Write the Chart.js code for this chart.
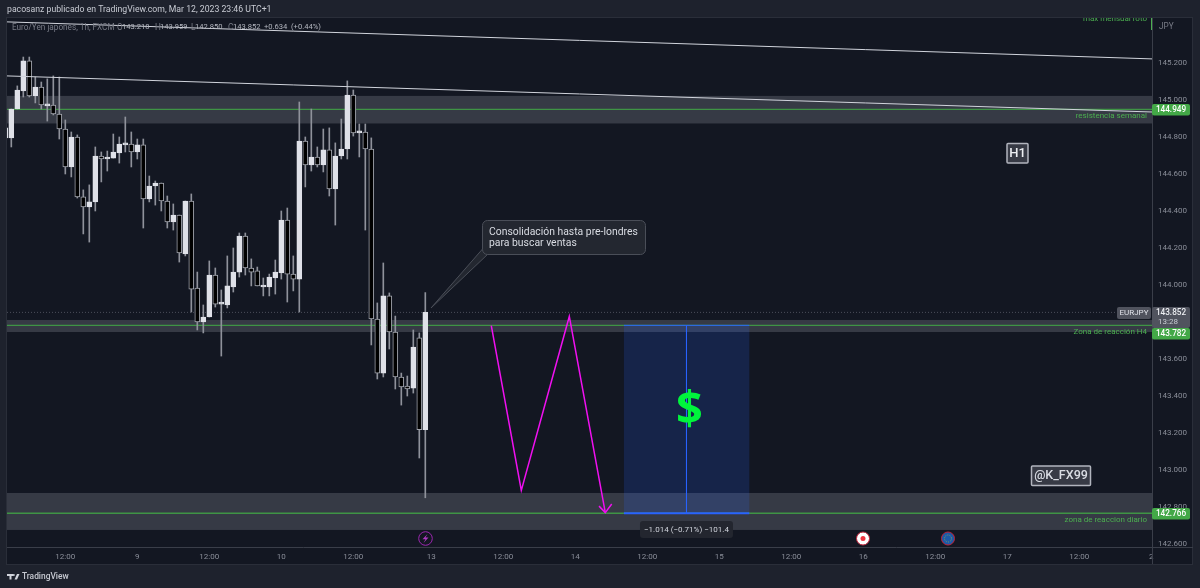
<!DOCTYPE html>
<html>
<head>
<meta charset="utf-8">
<title>EURJPY 1h</title>
<script src="https://cdn.jsdelivr.net/npm/chart.js@4/dist/chart.umd.min.js"></script>
<style>
  html, body { margin: 0; padding: 0; background: #1e222d; overflow: hidden; }
  canvas { display: block; }
</style>
</head>
<body>
<canvas id="priceChart" width="1200" height="588"></canvas>
<script>
// hourly candles, one per bar index
const candleOpen = [144.795,144.795,144.951,145.049,145.211,145.022,145.070,144.968,144.973,144.924,144.843,144.638,144.800,144.476,144.422,144.449,144.697,144.681,144.686,144.714,144.757,144.762,144.719,144.757,144.465,144.535,144.551,144.454,144.341,144.378,144.168,144.454,143.984,143.800,143.827,144.054,143.897,143.892,143.989,144.070,144.265,144.092,144.076,143.989,143.989,144.038,144.065,144.351,144.059,144.032,144.778,144.649,144.692,144.649,144.730,144.519,144.697,144.735,145.027,144.822,144.827,144.735,143.816,143.524,143.941,143.746,143.503,143.454,143.443,143.714,143.218];
const candleHigh = [144.849,144.951,145.076,145.232,145.232,145.124,145.097,145.114,145.130,145.124,144.892,144.827,144.811,144.514,144.541,144.746,144.719,144.724,144.816,144.800,144.908,144.827,144.789,144.789,144.589,144.562,144.551,144.481,144.438,144.378,144.454,144.492,144.070,143.892,144.130,144.092,143.973,144.157,144.200,144.281,144.281,144.141,144.097,144.038,144.059,144.135,144.400,144.416,144.157,144.989,144.800,144.951,144.746,144.843,144.849,144.768,144.897,145.103,145.054,144.870,144.870,144.795,143.903,144.119,143.957,143.832,143.524,143.508,143.757,143.741,143.959];
const candleLow = [144.784,144.746,144.951,145.016,145.016,144.984,144.951,144.886,144.919,144.789,144.600,144.584,144.470,144.276,144.232,144.400,144.557,144.616,144.686,144.659,144.719,144.638,144.681,144.308,144.449,144.432,144.400,144.308,144.297,144.124,144.157,143.854,143.757,143.741,143.827,143.881,143.616,143.876,143.962,144.043,144.054,143.995,143.995,143.941,143.941,143.951,144.032,143.908,143.968,143.854,144.530,144.616,144.638,144.611,144.481,144.324,144.681,144.681,144.805,144.692,144.297,143.676,143.492,143.503,143.654,143.438,143.351,143.400,143.416,143.065,142.850];
const candleClose = [144.849,144.951,145.054,145.211,145.022,145.070,144.973,144.973,144.924,144.843,144.638,144.800,144.476,144.422,144.449,144.697,144.681,144.686,144.719,144.762,144.762,144.719,144.757,144.465,144.535,144.551,144.454,144.341,144.378,144.173,144.454,143.978,143.800,143.827,144.054,143.897,143.903,143.995,144.070,144.265,144.092,144.070,143.995,144.000,144.043,144.070,144.351,144.059,144.032,144.778,144.649,144.692,144.649,144.730,144.519,144.697,144.735,145.027,144.822,144.827,144.735,143.816,143.524,143.941,143.746,143.503,143.449,143.438,143.665,143.218,143.852];

// axis ticks
const priceTicks = [145.2,145.0,144.8,144.6,144.4,144.2,144.0,143.8,143.6,143.4,143.2,143.0,142.8,142.6];
const timeTickIndex = [10,22,34,46,58,71,83,95,107,119,131,143,155,167,179,191];
const timeTickLabels = ['12:00','9','12:00','10','12:00','13','12:00','14','12:00','15','12:00','16','12:00','17','12:00','2'];

// support / resistance zones and their levels
const zoneTop = [145.022,143.811,142.876];
const zoneBottom = [144.873,143.746,142.676];
const levelPrices = [144.949,143.782,142.766];
const levelNames = ['resistencia semanal','Zona de reacción H4','zona de reaccion diario'];
const lastClose = 143.852;

// drawn trend lines, [bar index, price]
const trendUpper = [[0.28,145.422],[191.12,145.222]];
const trendLower = [[0.28,145.130],[191.12,144.935]];

// projected path and its arrow head
const pathIndex = [81,86,94,100];
const pathPrice = [143.78,142.89,143.83,142.77];
const headIndex = [98.95,100,101.07];
const headPrice = [142.805,142.77,142.816];

// price range measure
const measureStart = 103.1;
const measureEnd = 124;
const measureMid = 113.53;
const measureTop = 143.782;
const measureBottom = 142.766;

const xMin = 0.283;
const xMax = 191.117;
const yMin = 142.584;
const yMax = 145.443;

const UI_FONT = 'Roboto, "Noto Sans", sans-serif';

const toPoints = (xs, ys) => xs.map((x, i) => ({ x, y: ys[i] }));
const pairs = (list) => list.map(([x, y]) => ({ x, y }));

const bodies = candleOpen.map((o, i) => ({ x: i, y: [o, candleClose[i]] }));
const wicks = candleHigh.map((h, i) => ({ x: i, y: [candleLow[i], h] }));
const isUp = candleOpen.map((o, i) => candleClose[i] >= o);

function text(ctx, str, x, y, font, color, align) {
  ctx.font = font;
  ctx.fillStyle = color;
  ctx.textAlign = align || 'left';
  ctx.textBaseline = 'middle';
  ctx.fillText(str, x, y);
}

function roundBox(ctx, x, y, w, h, r, fill, stroke, lw) {
  ctx.beginPath();
  ctx.roundRect(x, y, w, h, r);
  if (fill) { ctx.fillStyle = fill; ctx.fill(); }
  if (stroke) { ctx.strokeStyle = stroke; ctx.lineWidth = lw || 1; ctx.stroke(); }
}

// zones, levels and the measure box sit under the candles
const backdrop = {
  id: 'backdrop',
  beforeDraw(chart) {
    const { ctx } = chart;
    ctx.save();
    ctx.fillStyle = '#131722';
    ctx.fillRect(7, 18, 1186, 546);
    ctx.restore();
  },
  beforeDatasetsDraw(chart) {
    const { ctx, chartArea: a, scales: { x, y } } = chart;
    ctx.save();
    ctx.beginPath();
    ctx.rect(a.left, a.top, a.width, a.height);
    ctx.clip();

    ctx.fillStyle = '#363a45';
    zoneTop.forEach((top, i) => {
      const y0 = y.getPixelForValue(top);
      ctx.fillRect(a.left, y0, a.width, y.getPixelForValue(zoneBottom[i]) - y0);
    });

    ctx.strokeStyle = '#4a4e59';
    ctx.setLineDash([1, 2]);
    ctx.beginPath();
    ctx.moveTo(a.left, y.getPixelForValue(lastClose));
    ctx.lineTo(a.right, y.getPixelForValue(lastClose));
    ctx.stroke();
    ctx.setLineDash([]);

    const mx0 = x.getPixelForValue(measureStart);
    const mx1 = x.getPixelForValue(measureEnd);
    const my0 = y.getPixelForValue(measureTop);
    const my1 = y.getPixelForValue(measureBottom);
    ctx.fillStyle = 'rgba(41,98,255,0.18)';
    ctx.fillRect(mx0, my0, mx1 - mx0, my1 - my0);

    ctx.strokeStyle = '#3f9445';
    ctx.lineWidth = 1.4;
    levelPrices.forEach((p) => {
      const py = y.getPixelForValue(p);
      ctx.beginPath();
      ctx.moveTo(a.left, py);
      ctx.lineTo(a.right, py);
      ctx.stroke();
    });
    ctx.restore();
  },
  afterDraw(chart) {
    const { ctx, chartArea: a, scales: { x, y } } = chart;
    ctx.save();

    // frame and axis rules
    ctx.strokeStyle = '#2a2e39';
    ctx.lineWidth = 1;
    ctx.strokeRect(6.5, 17.5, 1186, 547);
    ctx.strokeStyle = '#3a3e49';
    ctx.beginPath();
    ctx.moveTo(a.right + 0.5, 18);
    ctx.lineTo(a.right + 0.5, 564);
    ctx.moveTo(7, a.bottom + 0.5);
    ctx.lineTo(1193, a.bottom + 0.5);
    ctx.stroke();
    ctx.fillStyle = '#4caf50';
    ctx.fillRect(a.right - 1, 18, 1, 12);

    // header and legend
    text(ctx, 'pacosanz publicado en TradingView.com, Mar 12, 2023 23:46 UTC+1', 7, 10, '8.7px ' + UI_FONT, '#c8cbd3');
    const grey = '#787b86';
    const light = '#b2b5be';
    const legendFont = '8.2px ' + UI_FONT;
    const valueFont = '7.6px ' + UI_FONT;
    text(ctx, 'Euro/Yen japonés, 1h, FXCM', 12, 27.5, legendFont, grey);
    text(ctx, 'O', 117, 27.5, legendFont, grey);
    text(ctx, '143.218', 122, 27.5, valueFont, light);
    text(ctx, 'H', 155, 27.5, legendFont, grey);
    text(ctx, '143.959', 160, 27.5, valueFont, light);
    text(ctx, 'L', 191, 27.5, legendFont, grey);
    text(ctx, '142.850', 195, 27.5, valueFont, light);
    text(ctx, 'C', 228, 27.5, legendFont, grey);
    text(ctx, '143.852', 233, 27.5, valueFont, light);
    text(ctx, '+0.634', 264, 27.5, valueFont, light);
    text(ctx, '(+0.44%)', 291, 27.5, valueFont, light);
    text(ctx, 'JPY', 1159, 27, '8.2px ' + UI_FONT, grey);

    // level captions, right aligned against the price axis
    ctx.save();
    ctx.beginPath();
    ctx.rect(a.left, a.top, a.width, a.height);
    ctx.clip();
    const green = '#4caf50';
    const capFont = '8px ' + UI_FONT;
    text(ctx, 'max mensual roto', 1147, 19, capFont, green, 'right');
    text(ctx, levelNames[0], 1147, 116, capFont, green, 'right');
    text(ctx, levelNames[1], 1147, 332, capFont, green, 'right');
    text(ctx, levelNames[2], 1147, 520, capFont, green, 'right');
    ctx.restore();

    // callout
    ctx.beginPath();
    ctx.moveTo(482.5, 249);
    ctx.lineTo(431, 308);
    ctx.lineTo(488, 254);
    ctx.closePath();
    ctx.fillStyle = '#232730';
    ctx.fill();
    ctx.strokeStyle = '#4a4e58';
    ctx.stroke();
    roundBox(ctx, 482.5, 220.5, 163, 34, 5, '#232730', '#4a4e58');
    text(ctx, 'Consolidación hasta pre-londres', 489, 232, '10.4px ' + UI_FONT, '#d9dce3');
    text(ctx, 'para buscar ventas', 489, 243, '10.4px ' + UI_FONT, '#d9dce3');

    // boxed notes
    roundBox(ctx, 1007, 143.5, 21, 19.5, 1, '#373a45', '#b2b5be', 1.5);
    text(ctx, 'H1', 1017.5, 153.5, '500 13px ' + UI_FONT, '#eceef2', 'center');
    roundBox(ctx, 1031.5, 466, 59, 19.5, 1, '#373a45', '#b2b5be', 1.5);
    text(ctx, '@K_FX99', 1061, 476, '500 12.5px ' + UI_FONT, '#d9dce3', 'center');

    // big dollar inside the measure box
    text(ctx, '$', 689.5, 412, 'bold 47px "Open Sans", sans-serif', '#00f53c', 'center');

    // measure label
    const mid = x.getPixelForValue(measureMid);
    roundBox(ctx, mid - 46.5, 521, 93, 17, 3, '#23262f');
    text(ctx, '−1.014 (−0.71%) −101.4', mid, 529.5, '8px ' + UI_FONT, '#d1d4dc', 'center');

    // price tags on the axis
    roundBox(ctx, 1117, 307, 34, 12, 2, '#50535e');
    text(ctx, 'EURJPY', 1134, 313, '8px ' + UI_FONT, '#e0e3ea', 'center');
    roundBox(ctx, 1152, 307, 38, 21, 2, '#50535e');
    text(ctx, '143.852', 1171, 313, '500 8.2px ' + UI_FONT, '#eceef2', 'center');
    text(ctx, '13:28', 1168, 322, '8px ' + UI_FONT, '#c8cbd3', 'center');
    [[104, 144.949], [328, 143.782], [508, 142.766]].forEach(([top, p]) => {
      roundBox(ctx, 1152, top, 38, 11.5, 2, '#43a847');
      text(ctx, p.toFixed(3), 1171, top + 6, '500 8.2px ' + UI_FONT, '#ffffff', 'center');
    });

    // event markers under the candles
    const my = 538.5;
    ctx.lineWidth = 1;
    ctx.beginPath();
    ctx.arc(425.5, my, 6.8, 0, Math.PI * 2);
    ctx.fillStyle = '#131722';
    ctx.fill();
    ctx.strokeStyle = '#9c27b0';
    ctx.stroke();
    ctx.beginPath();
    ctx.moveTo(427.5, my - 4.5);
    ctx.lineTo(422.5, my + 0.8);
    ctx.lineTo(425.5, my + 0.8);
    ctx.lineTo(423.5, my + 4.5);
    ctx.lineTo(428.5, my - 1);
    ctx.lineTo(425.5, my - 1);
    ctx.closePath();
    ctx.fillStyle = '#b03ac4';
    ctx.fill();

    ctx.beginPath();
    ctx.arc(863, my, 6.5, 0, Math.PI * 2);
    ctx.fillStyle = '#ffffff';
    ctx.fill();
    ctx.strokeStyle = '#c2233a';
    ctx.stroke();
    ctx.beginPath();
    ctx.arc(863, my, 2.5, 0, Math.PI * 2);
    ctx.fillStyle = '#ef3340';
    ctx.fill();

    ctx.beginPath();
    ctx.arc(948, my, 6.5, 0, Math.PI * 2);
    ctx.fillStyle = '#1c5aa8';
    ctx.fill();
    ctx.strokeStyle = '#c2233a';
    ctx.stroke();
    ctx.beginPath();
    ctx.arc(948, my, 3.5, 0, Math.PI * 2);
    ctx.strokeStyle = '#8a9a5a';
    ctx.setLineDash([1, 1.2]);
    ctx.stroke();
    ctx.setLineDash([]);

    // footer mark
    ctx.fillStyle = '#d1d4dc';
    ctx.fillRect(7, 574, 6, 2);
    ctx.fillRect(9.5, 574, 2, 5.5);
    ctx.beginPath();
    ctx.arc(13.8, 575, 1, 0, Math.PI * 2);
    ctx.fill();
    ctx.beginPath();
    ctx.moveTo(14.5, 579.5);
    ctx.lineTo(17, 574);
    ctx.lineTo(19.5, 574);
    ctx.lineTo(17, 579.5);
    ctx.closePath();
    ctx.fill();
    text(ctx, 'TradingView', 22, 576.5, '500 8.4px ' + UI_FONT, '#c8cbd3');
    ctx.restore();
  }
};

const thinLine = { type: 'line', pointRadius: 0, pointHoverRadius: 0, tension: 0, fill: false };

new Chart(document.getElementById('priceChart').getContext('2d'), {
  type: 'bar',
  plugins: [backdrop],
  data: {
    datasets: [
      { ...thinLine, data: pairs(trendUpper), borderColor: '#d1d4dc', borderWidth: 1 },
      { ...thinLine, data: pairs(trendLower), borderColor: '#d1d4dc', borderWidth: 1 },
      { ...thinLine, data: toPoints(pathIndex, pathPrice), borderColor: '#f010f0', borderWidth: 1.5 },
      { ...thinLine, data: toPoints(headIndex, headPrice), borderColor: '#f010f0', borderWidth: 1.5 },
      { ...thinLine, data: toPoints([measureMid, measureMid], [measureTop, measureBottom]), borderColor: '#2962ff', borderWidth: 1 },
      { ...thinLine, data: toPoints([measureStart, measureEnd], [measureTop, measureTop]), borderColor: '#2962ff', borderWidth: 1 },
      { ...thinLine, data: toPoints([measureStart, measureEnd], [measureBottom, measureBottom]), borderColor: '#2962ff', borderWidth: 2 },
      {
        data: bodies,
        grouped: false,
        barThickness: 5,
        minBarLength: 2,
        backgroundColor: isUp.map((u) => (u ? '#dfe1e8' : '#000000')),
        borderColor: isUp.map((u) => (u ? '#dfe1e8' : '#a3a6af')),
        borderWidth: 1,
        borderSkipped: false
      },
      {
        data: wicks,
        grouped: false,
        barThickness: 1,
        backgroundColor: '#8f929b',
        borderWidth: 0
      }
    ]
  },
  options: {
    responsive: false,
    animation: false,
    events: [],
    layout: { padding: { left: 7, right: 7, top: 18, bottom: 24 } },
    plugins: { legend: { display: false }, tooltip: { enabled: false }, title: { display: false } },
    scales: {
      x: {
        type: 'linear',
        min: xMin,
        max: xMax,
        offset: false,
        grid: { display: false, drawTicks: false, tickLength: 0 },
        border: { display: false },
        afterFit(scale) { scale.height = 17; },
        afterBuildTicks(scale) { scale.ticks = timeTickIndex.map((value) => ({ value })); },
        ticks: {
          autoSkip: false,
          maxRotation: 0,
          padding: 5,
          color: '#8a8e99',
          font: { family: UI_FONT, size: 8 },
          callback: (value) => timeTickLabels[timeTickIndex.indexOf(value)]
        }
      },
      y: {
        position: 'right',
        min: yMin,
        max: yMax,
        grid: { display: false, drawTicks: false, tickLength: 0 },
        border: { display: false },
        afterFit(scale) { scale.width = 41; },
        afterBuildTicks(scale) { scale.ticks = priceTicks.map((value) => ({ value })); },
        ticks: {
          autoSkip: false,
          padding: 6,
          color: '#8a8e99',
          font: { family: UI_FONT, size: 8 },
          callback: (value) => value.toFixed(3)
        }
      }
    }
  }
});
</script>
</body>
</html>
